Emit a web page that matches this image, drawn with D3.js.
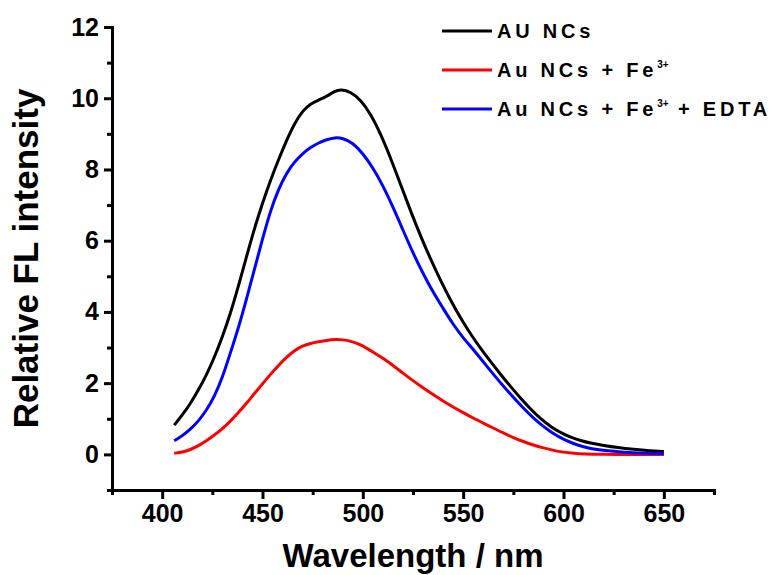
<!DOCTYPE html>
<html>
<head>
<meta charset="utf-8">
<script src="https://cdn.jsdelivr.net/npm/d3@7"></script>
<style>
  body { margin: 0; background: #fff; }
  svg text { font-family: "Liberation Sans", Arial, sans-serif; font-weight: bold; fill: #000; }
</style>
</head>
<body>
<div id="graf"></div>
<script>
// datos: [longitud de onda nm, intensidad]
const auNcs = [[406,0.82],[410,1.1],[414,1.42],[418,1.8],[422,2.22],[426,2.72],[430,3.3],[434,3.95],[438,4.72],[442,5.55],
  [446,6.35],[450,7.05],[454,7.7],[458,8.28],[462,8.82],[466,9.3],[470,9.65],[474,9.85],[478,9.95],[482,10.05],
  [486,10.2],[489,10.25],[494,10.18],[499,9.95],[504,9.55],[509,8.98],[514,8.3],[519,7.55],[524,6.8],[529,6.1],
  [534,5.45],[539,4.85],[544,4.3],[549,3.8],[554,3.35],[559,2.95],[564,2.58],[569,2.22],[574,1.88],[579,1.55],
  [584,1.25],[589,0.98],[594,0.76],[599,0.6],[604,0.47],[609,0.38],[614,0.31],[620,0.25],[627,0.19],[635,0.14],
  [643,0.1],[650,0.08]]

const auFe = [[406,0.03],[410,0.06],[414,0.13],[418,0.24],[422,0.38],[426,0.54],[430,0.72],[434,0.93],[438,1.17],[442,1.43],
  [446,1.71],[450,1.98],[454,2.25],[458,2.5],[462,2.73],[466,2.92],[470,3.05],[474,3.12],[478,3.16],[482,3.2],
  [486,3.23],[490,3.22],[494,3.18],[498,3.1],[502,2.98],[506,2.84],[510,2.7],[515,2.5],[520,2.28],[525,2.07],
  [530,1.87],[535,1.68],[540,1.5],[545,1.33],[550,1.17],[555,1.02],[560,0.88],[565,0.74],[570,0.6],[575,0.47],
  [580,0.36],[585,0.26],[590,0.18],[595,0.11],[600,0.06],[605,0.03],[610,0.01],[620,0.0],[630,0.0],[640,0.0],[650,0.0]]

const auFeEdta = [[406,0.38],[410,0.52],[414,0.7],[418,0.93],[422,1.23],[426,1.62],[430,2.15],[434,2.85],[438,3.55],[442,4.35],
  [446,5.2],[450,6.05],[454,6.85],[458,7.45],[462,7.9],[466,8.22],[470,8.45],[474,8.62],[478,8.75],[482,8.84],
  [486,8.9],[490,8.88],[495,8.75],[500,8.45],[505,8.05],[510,7.55],[515,6.95],[520,6.3],[525,5.65],[530,5.08],
  [535,4.55],[540,4.1],[545,3.65],[550,3.27],[555,2.95],[560,2.6],[565,2.25],[570,1.92],[575,1.6],[580,1.3],
  [585,1.02],[590,0.78],[595,0.58],[600,0.42],[605,0.3],[610,0.21],[615,0.15],[620,0.11],[630,0.06],[640,0.03],[650,0.02]]

const series = [
  { nombre: "AU NCs", sup: null, resto: null, color: "#000000", datos: auNcs },
  { nombre: "Au NCs + Fe", sup: "3+", resto: null, color: "#ff0000", datos: auFe },
  { nombre: "Au NCs + Fe", sup: "3+", resto: " + EDTA", color: "#0000ff", datos: auFeEdta }
]

const xTicks = [400, 450, 500, 550, 600, 650]
const yTicks = [0, 2, 4, 6, 8, 10, 12]
const xMinor = [375, 425, 475, 525, 575, 625, 675]
const yMinor = [-1, 1, 3, 5, 7, 9, 11]

const anchoTotal = 779
const altoTotal = 575
const margins = { top: 27, right: 65, bottom: 85, left: 112 }
const ancho = anchoTotal - margins.left - margins.right
const alto = altoTotal - margins.top - margins.bottom

const svg = d3.select("#graf").append("svg").attr("width", anchoTotal).attr("height", altoTotal)
const g = svg.append("g").attr("transform", `translate(${margins.left}, ${margins.top})`)

const x = d3.scaleLinear().domain([375, 675]).range([0, ancho])
const y = d3.scaleLinear().domain([-1, 12]).range([alto, 0])

// ticks menores primero
g.append("g").attr("transform", `translate(0, ${alto})`)
  .call(d3.axisBottom(x).tickValues(xMinor).tickSize(5).tickFormat(""))
g.append("g").call(d3.axisLeft(y).tickValues(yMinor).tickSize(5).tickFormat(""))

const ejeX = g.append("g").attr("transform", `translate(0, ${alto})`)
  .call(d3.axisBottom(x).tickValues(xTicks).tickSize(9).tickPadding(5).tickSizeOuter(0))
const ejeY = g.append("g")
  .call(d3.axisLeft(y).tickValues(yTicks).tickSize(8).tickPadding(5).tickSizeOuter(0))

g.selectAll(".domain, .tick line").attr("stroke", "#000").attr("stroke-width", 3)
ejeX.selectAll("text").style("font-size", "25px")
ejeY.selectAll("text").style("font-size", "25px")

// lineas
const linea = d3.line().x(d => x(d[0])).y(d => y(d[1])).curve(d3.curveBasis)
g.selectAll(".serie").data(series).enter().append("path")
  .attr("class", "serie")
  .attr("fill", "none")
  .attr("stroke", d => d.color)
  .attr("stroke-width", 3)
  .attr("d", d => linea(d.datos))

// titulos
svg.append("text").attr("x", margins.left + ancho / 2).attr("y", 567)
  .attr("text-anchor", "middle").style("font-size", "33px").text("Wavelength / nm")
svg.append("text").attr("transform", `translate(38, ${margins.top + alto / 2}) rotate(-90)`)
  .attr("text-anchor", "middle").style("font-size", "35px").text("Relative FL intensity")

// leyenda
const ley = svg.append("g").attr("transform", "translate(442, 31)")
series.forEach((s, i) => {
  const fila = ley.append("g").attr("transform", `translate(0, ${i * 39})`)
  fila.append("line").attr("x1", 0).attr("x2", 50).attr("stroke", s.color).attr("stroke-width", 3)
  const t = fila.append("text").attr("x", 55).attr("y", 7).style("font-size", "20px").style("letter-spacing", "3.8px")
  t.append("tspan").text(s.nombre)
  if (s.sup) {
    t.append("tspan").attr("dy", -9).style("font-size", "10px").style("letter-spacing", "0px").text(s.sup)
    if (s.resto) t.append("tspan").attr("dy", 9).text(s.resto)
  }
})
</script>
</body>
</html>
